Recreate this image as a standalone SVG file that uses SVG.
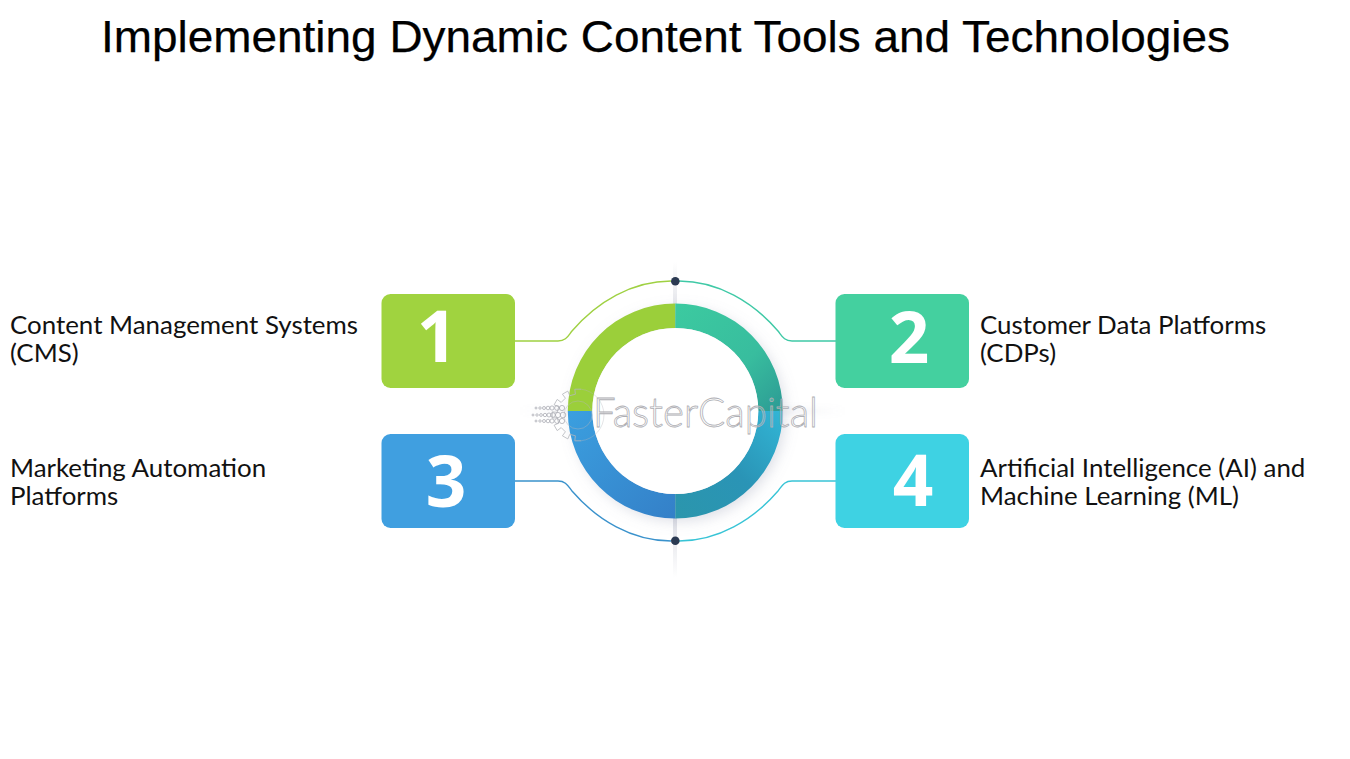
<svg xmlns="http://www.w3.org/2000/svg" width="1350" height="759" viewBox="0 0 1350 759">
<style>
.title{font:45px "Liberation Sans",Arial,sans-serif;fill:#000;stroke:#000;stroke-width:.25}
.label{font:25.9px Lato,"Open Sans",sans-serif;fill:#111}
.num{font:700 71px "Open Sans",sans-serif;fill:#fff;text-anchor:middle}
.box{stroke:none}
.wire{fill:none;stroke-width:1.4}
.dot{fill:#2b3a52}
.mark{font:300 42px Lato,sans-serif;fill:#fff;fill-opacity:.18;stroke:#aeaeb3;stroke-width:.8}
.gear{fill:none;stroke:#b4b6bb;stroke-width:.8}
.bead{fill:none;stroke:#a2a4ac;stroke-width:.7}
</style>
<defs>
<linearGradient id="gTR" x1="0" y1="0" x2="1" y2="1"><stop offset="0" stop-color="#3ccaa0"/><stop offset=".6" stop-color="#38bd9e"/><stop offset="1" stop-color="#2c9a94"/></linearGradient>
<linearGradient id="gBL" x1="0" y1="0" x2="1" y2="1"><stop offset="0" stop-color="#3b9fdf"/><stop offset="1" stop-color="#3480c8"/></linearGradient>
<linearGradient id="gBR" x1="0" y1="1" x2="1" y2="0"><stop offset="0" stop-color="#2b96ac"/><stop offset=".5" stop-color="#2a94b6"/><stop offset="1" stop-color="#32b6d6"/></linearGradient>
<linearGradient id="haze" x1="0" y1="0" x2="0" y2="1"><stop offset="0" stop-color="#8d92a8" stop-opacity="0"/><stop offset=".5" stop-color="#8d92a8" stop-opacity=".4"/><stop offset="1" stop-color="#8d92a8" stop-opacity="0"/></linearGradient>
<linearGradient id="hazeH" x1="0" y1="0" x2="1" y2="0"><stop offset="0" stop-color="#9aa0b8" stop-opacity="0"/><stop offset=".5" stop-color="#9aa0b8" stop-opacity=".3"/><stop offset="1" stop-color="#9aa0b8" stop-opacity="0"/></linearGradient>
<filter id="soft" x="-30%" y="-30%" width="160%" height="160%"><feGaussianBlur stdDeviation="7"/></filter>
<filter id="softer" x="-10%" y="-200%" width="120%" height="500%"><feGaussianBlur stdDeviation="2.5"/></filter>
</defs>

<rect width="1350" height="759" fill="#fff"/>
<text class="title" x="101" y="52" textLength="1129" lengthAdjust="spacingAndGlyphs">Implementing Dynamic Content Tools and Technologies</text>

<!-- soft axis lines and the ring's drop shadow -->
<g id="backdrop">
<circle cx="679" cy="415" r="106" fill="#8f94ad" fill-opacity=".32" filter="url(#soft)"/>
<rect x="673" y="262" width="4" height="150" fill="url(#haze)"/>
<rect x="673" y="418" width="4" height="160" fill="url(#haze)"/>
<rect x="520" y="407" width="325" height="8" fill="url(#hazeH)" filter="url(#softer)"/>
</g>

<g id="connectors">
<path class="wire" stroke="#9fd142" d="M515 341H558C566 341 568 336 572 331C597 302 632 281 671 281"/>
<path class="wire" stroke="#3fc9a6" d="M836 341H792C784 341 782 336 778 331C753 302 718 281 679 281"/>
<path class="wire" stroke="#3a92cc" d="M515 481H558C566 481 568 486 572 491C597 520 632 541 671 541"/>
<path class="wire" stroke="#38c4d6" d="M836 481H792C784 481 782 486 778 491C753 520 718 541 679 541"/>
</g>

<g id="ring">
<path fill="#9bcf3a" d="M675.3 303.5A107.5 107.5 0 0 0 567.8 411H592.3A83 83 0 0 1 675.3 328Z"/>
<path fill="url(#gTR)" d="M675.3 303.5A107.5 107.5 0 0 1 782.8 411H758.3A83 83 0 0 0 675.3 328Z"/>
<path fill="url(#gBL)" d="M567.8 411A107.5 107.5 0 0 0 675.3 518.5V494A83 83 0 0 1 592.3 411Z"/>
<path fill="url(#gBR)" d="M782.8 411A107.5 107.5 0 0 1 675.3 518.5V494A83 83 0 0 0 758.3 411Z"/>
<circle cx="675.3" cy="411" r="83" fill="#fff"/>
</g>

<g id="pins">
<circle class="dot" cx="675.3" cy="281.3" r="4.3"/>
<circle class="dot" cx="675.3" cy="540.7" r="4.3"/>
</g>

<g id="node-1">
<rect class="box" x="381.5" y="294" width="133.5" height="94" rx="9" fill="#a0d33f"/>
<text class="num" x="437" y="362">1</text>
<text class="label" x="10" y="334">Content Management Systems<tspan x="10" dy="28">(CMS)</tspan></text>
</g>
<g id="node-2">
<rect class="box" x="835.5" y="294" width="133.5" height="94" rx="9" fill="#44d09f"/>
<text class="num" x="909" y="363">2</text>
<text class="label" x="980" y="334">Customer Data Platforms<tspan x="980" dy="28">(CDPs)</tspan></text>
</g>
<g id="node-3">
<rect class="box" x="381.5" y="434" width="133.5" height="94" rx="9" fill="#409fe0"/>
<text class="num" x="446" y="507">3</text>
<text class="label" x="10" y="476.5">Marketing Automation<tspan x="10" dy="28">Platforms</tspan></text>
</g>
<g id="node-4">
<rect class="box" x="835.5" y="434" width="133.5" height="94" rx="9" fill="#3ed2e3"/>
<text class="num" x="913" y="506">4</text>
<text class="label" x="980" y="476.5">Artificial Intelligence (AI) and<tspan x="980" dy="28">Machine Learning (ML)</tspan></text>
</g>

<!-- brand mark: gear, bead rows and outlined wordmark -->
<g id="brand">
<path class="gear" d="M581.2 440.8L574.8 440.8L575.4 435.8L569.8 434.3L567.8 438.9L562.4 435.8L565.4 431.8L561.2 427.6L557.2 430.6L554.1 425.2L558.7 423.2L557.2 417.6L552.2 418.2L552.2 411.8L557.2 412.4L558.7 406.8L554.1 404.8L557.2 399.4L561.2 402.4L565.4 398.2L562.4 394.2L567.8 391.1L569.8 395.7L575.4 394.2L574.8 389.2L581.2 389.2"/>
<circle class="gear" cx="578" cy="415" r="14" stroke-opacity=".55"/>
<path class="gear" stroke-opacity=".45" d="M581.2 389.2A26 26 0 0 1 581.2 440.8"/>
<g class="bead">
<circle cx="536" cy="408" r="1"/><circle cx="540" cy="408" r="1.2"/><circle cx="544" cy="408" r="1.5"/><circle cx="548" cy="408" r="1.8"/><circle cx="552" cy="408" r="2.1"/><circle cx="557" cy="408" r="2.4"/><circle cx="562" cy="408" r="2.6"/>
<circle cx="533" cy="415" r="1"/><circle cx="537" cy="415" r="1.2"/><circle cx="541" cy="415" r="1.4"/><circle cx="545" cy="415" r="1.7"/><circle cx="549" cy="415" r="2"/><circle cx="553" cy="415" r="2.3"/><circle cx="558" cy="415" r="2.6"/><circle cx="563" cy="415" r="2.8"/>
<circle cx="536" cy="421" r="1"/><circle cx="540" cy="421" r="1.2"/><circle cx="544" cy="421" r="1.5"/><circle cx="548" cy="421" r="1.8"/><circle cx="552" cy="421" r="2.1"/><circle cx="557" cy="421" r="2.4"/><circle cx="562" cy="421" r="2.6"/>
</g>
<text class="mark" x="593" y="427" textLength="225" lengthAdjust="spacingAndGlyphs">FasterCapital</text>
</g>
</svg>
